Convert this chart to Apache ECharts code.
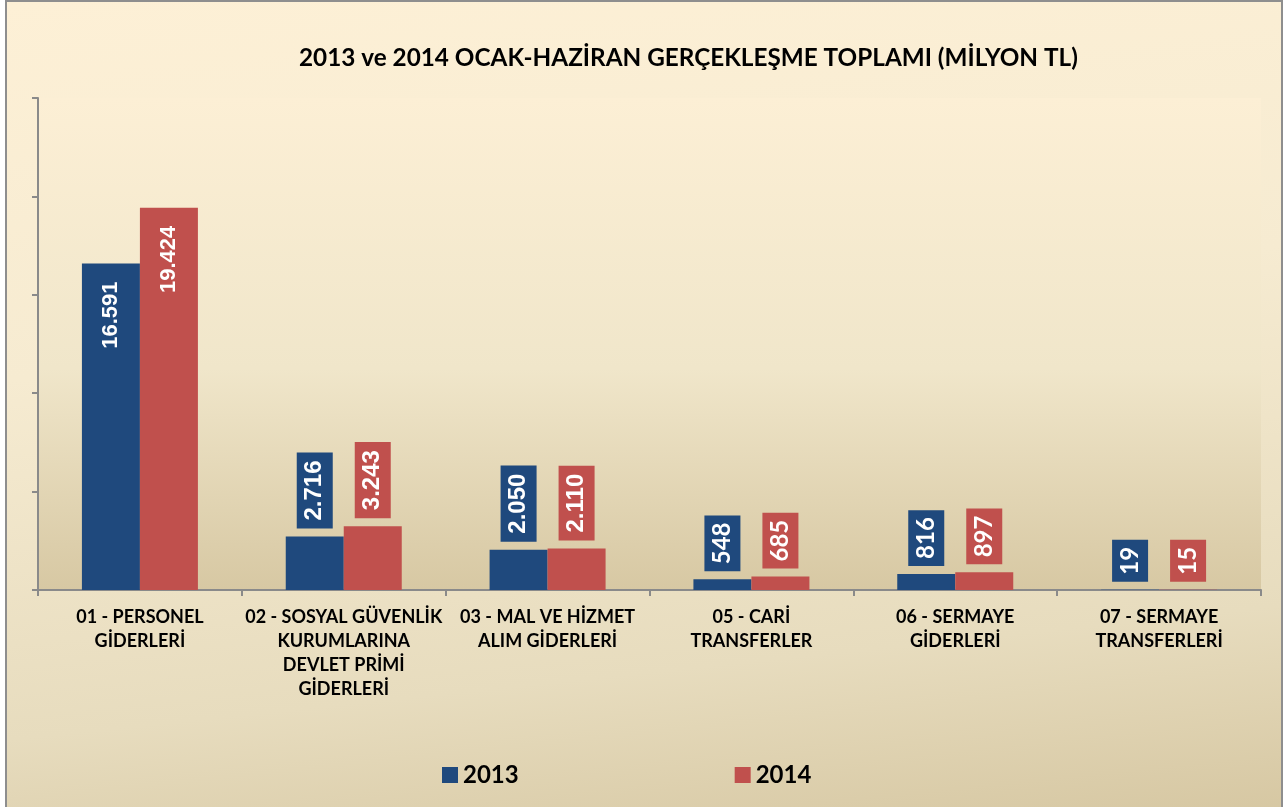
<html>
<head>
    <meta charset="utf-8">
    <title>2013 ve 2014 Ocak-Haziran</title>
    <script src="https://cdn.jsdelivr.net/npm/echarts@6/dist/echarts.min.js"></script>
    <style>
        body { margin: 0; background: #ffffff; }
        #frame {
            position: absolute; left: 5px; top: 0px; width: 1274px; height: 812px;
            border: 2px solid #8e8e8e;
            background: linear-gradient(174deg, #fdf0d6 0%, #f6ebd1 40%, #e7dcbe 78%, #d6c7a2 100%);
        }
        #main { position: absolute; left: 0; top: 0; width: 1283px; height: 807px; }
    </style>
</head>
<body>
<div id="frame"></div>
<div id="main"></div>
<script type="text/javascript">
    // kategoriler ve değerler (milyon TL)
    var kategoriler = [
        '01 - PERSONEL\nGİDERLERİ',
        '02 - SOSYAL GÜVENLİK\nKURUMLARINA\nDEVLET PRİMİ\nGİDERLERİ',
        '03 - MAL VE HİZMET\nALIM GİDERLERİ',
        '05 - CARİ\nTRANSFERLER',
        '06 - SERMAYE\nGİDERLERİ',
        '07 - SERMAYE\nTRANSFERLERİ'
    ];
    var yil2013 = [16591, 2716, 2050, 548, 816, 19];
    var yil2014 = [19424, 3243, 2110, 685, 897, 15];
    var seriAdlari = ['2013', '2014'];

    var colors = ['#1f497d', '#c0504d'];
    var arial = 'Arial, "Liberation Sans", sans-serif';

    function etiket(v) {
        // 16591 -> 16.591
        return String(v).replace(/\B(?=(\d{3})+(?!\d))/g, '.');
    }

    function veriYap(values, color) {
        return values.map(function (v) {
            if (v > 10000) {
                return {
                    value: v,
                    label: {
                        position: 'insideTop', rotate: 90, align: 'right', verticalAlign: 'middle',
                        distance: 18, color: '#fff', fontSize: 22, fontWeight: 'bold',
                        fontFamily: arial
                    }
                };
            }
            var kisa = v < 1000;
            return {
                value: v,
                label: {
                    position: 'top', rotate: 90, align: 'left', verticalAlign: 'middle',
                    distance: 8, color: '#fff', fontSize: 24, fontWeight: 'bold',
                    fontFamily: kisa ? 'Lato, sans-serif' : arial,
                    backgroundColor: color, lineHeight: 20,
                    padding: kisa ? [8, 7] : [8, 8]
                }
            };
        });
    }

    var myChart = echarts.init(document.getElementById('main'));
    var option = {
        color: colors,
        animation: false,
        title: {
            text: '2013 ve 2014 OCAK-HAZİRAN GERÇEKLEŞME TOPLAMI (MİLYON TL)',
            left: 299, top: 46, padding: 0,
            textStyle: { fontFamily: 'Lato, sans-serif', fontWeight: 'bold', fontSize: 24.3, color: '#000' }
        },
        legend: {
            data: seriAdlari,
            left: 442, top: 763, padding: 0,
            itemWidth: 16, itemHeight: 16, itemGap: 216,
            icon: 'rect',
            textStyle: { fontFamily: 'Lato, sans-serif', fontWeight: 'bold', fontSize: 24, lineHeight: 24, color: '#000' }
        },
        grid: {
            left: 38, right: 22, top: 98, bottom: 217,
            show: true, borderWidth: 0,
            backgroundColor: new echarts.graphic.LinearGradient(0, 0, 0, 1, [
                { offset: 0, color: '#fcefd5' },
                { offset: 0.55, color: '#f0e6ca' },
                { offset: 1, color: '#d7c8a3' }
            ])
        },
        xAxis: {
            type: 'category',
            data: kategoriler,
            axisLine: { lineStyle: { color: '#8a8a8a', width: 2 } },
            axisTick: { show: true, length: 6, lineStyle: { color: '#8a8a8a', width: 2 } },
            axisLabel: {
                interval: 0, margin: 15, color: '#000', fontSize: 18, lineHeight: 24,
                fontWeight: 'bold', fontFamily: 'Lato, sans-serif'
            }
        },
        yAxis: {
            type: 'value',
            min: 0, max: 25000, interval: 5000,
            axisLine: { show: true, lineStyle: { color: '#8a8a8a', width: 2 } },
            axisTick: { show: true, length: 6, lineStyle: { color: '#8a8a8a', width: 2 } },
            axisLabel: { show: false },
            splitLine: { show: false }
        },
        series: [{
            name: seriAdlari[0], type: 'bar', barWidth: 58, barGap: '0%',
            label: { show: true, formatter: function (p) { return etiket(p.value); } },
            data: veriYap(yil2013, colors[0])
        }, {
            name: seriAdlari[1], type: 'bar', barWidth: 58, barGap: '0%',
            label: { show: true, formatter: function (p) { return etiket(p.value); } },
            data: veriYap(yil2014, colors[1])
        }]
    };
    myChart.setOption(option);
</script>
</body>
</html>
